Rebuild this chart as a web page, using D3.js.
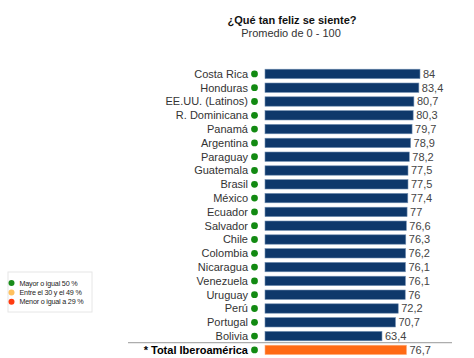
<!DOCTYPE html>
<html><head><meta charset="utf-8">
<script src="https://cdn.jsdelivr.net/npm/d3@7"></script>
<style>body{margin:0;background:#fff}svg{display:block}</style>
</head><body><svg id="c" width="474" height="358"></svg>
<script>
const countries = ["Costa Rica","Honduras","EE.UU. (Latinos)","R. Dominicana","Panamá","Argentina","Paraguay","Guatemala","Brasil","México","Ecuador","Salvador","Chile","Colombia","Nicaragua","Venezuela","Uruguay","Perú","Portugal","Bolivia"];
const values = [84,83.4,80.7,80.3,79.7,78.9,78.2,77.5,77.5,77.4,77,76.6,76.3,76.2,76.1,76.1,76,72.2,70.7,63.4];
const totalLabel = "* Total Iberoamérica";
const totalValue = 76.7;
const legendLabels = ["Mayor o igual 50 %","Entre el 30 y el 49 %","Menor o igual a 29 %"];
const legendColors = ["#1a8c1a","#ffc15e","#ff3b10"];
const title = "¿Qué tan feliz se siente?";
const subtitle = "Promedio de 0 - 100";

const svg = d3.select("#c");
const font = "'Liberation Sans', Arial, sans-serif";
const names = countries.concat([totalLabel]);
const vals = values.concat([totalValue]);

const x = d3.scaleLinear().domain([0,100]).range([265,449.5]);
const y = d3.scaleBand().domain(names).range([67,67+21*13.8]).paddingInner(0.32).paddingOuter(0.16);

svg.append("text").attr("x",292).attr("y",24).attr("text-anchor","middle")
  .style("font-family",font).style("font-size","11px").style("font-weight","bold").attr("fill","#111").text(title);
svg.append("text").attr("x",291).attr("y",37).attr("text-anchor","middle")
  .style("font-family",font).style("font-size","11px").attr("fill","#333").text(subtitle);

// separator line above total
svg.append("line").attr("x1",128).attr("x2",452)
  .attr("y1",y(totalLabel)-2.5).attr("y2",y(totalLabel)-2.5)
  .attr("stroke","#999").attr("stroke-width",1);

const rows = svg.selectAll("g.row").data(names.map((n,i)=>({n,v:vals[i],total:i===names.length-1})))
  .join("g").attr("class","row");

rows.append("rect").attr("x",x(0)).attr("y",d=>y(d.n))
  .attr("width",d=>x(d.v)-x(0)).attr("height",y.bandwidth())
  .attr("fill",d=>d.total?"#ff6a14":"#0e386b")
  .attr("stroke",d=>d.total?"#ffb080":"#6f8db0").attr("stroke-width",0.6);

rows.append("circle").attr("cx",254.5).attr("cy",d=>y(d.n)+y.bandwidth()/2).attr("r",3.4)
  .attr("fill","#128a12");

rows.append("text").attr("x",248).attr("y",d=>y(d.n)+y.bandwidth()/2).attr("dy","0.36em")
  .attr("text-anchor","end").style("font-family",font).style("font-size","11px")
  .style("font-weight",d=>d.total?"bold":"normal")
  .attr("fill",d=>d.total?"#000":"#333").text(d=>d.n);

rows.append("text").attr("x",d=>x(d.v)+3).attr("y",d=>y(d.n)+y.bandwidth()/2).attr("dy","0.36em")
  .style("font-family",font).style("font-size","11px").attr("fill","#444")
  .text(d=>String(d.v).replace(".",","));

// legend
const lg = svg.append("g");
lg.append("rect").attr("x",8).attr("y",272).attr("width",84).attr("height",40)
  .attr("fill","#fff").attr("stroke","#e6e6e6");
legendLabels.forEach((t,i)=>{
  lg.append("circle").attr("cx",11.5).attr("cy",283+i*9.4).attr("r",3).attr("fill",legendColors[i]);
  lg.append("text").attr("x",19.5).attr("y",283+i*9.4).attr("dy","0.35em")
    .style("font-family",font).style("font-size","7.2px").style("letter-spacing","-0.2px").attr("fill","#222").text(t);
});
</script></body></html>
